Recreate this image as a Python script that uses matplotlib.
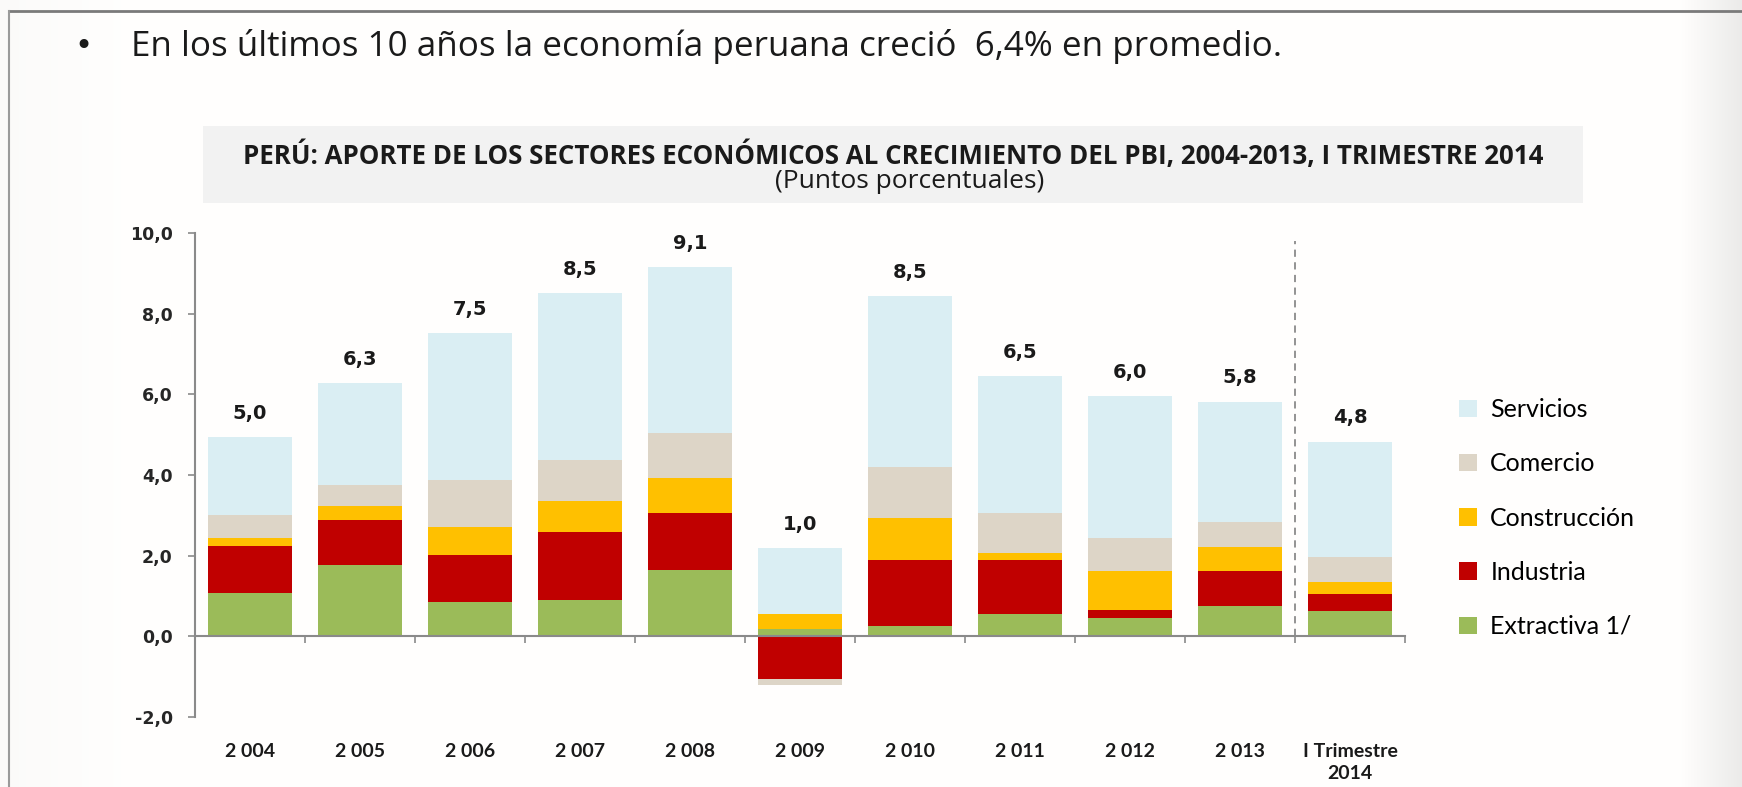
import matplotlib
matplotlib.use('Agg')
import matplotlib.pyplot as plt
import numpy as np
from matplotlib.lines import Line2D
from matplotlib.patches import Rectangle, Patch

# ---------------- data ----------------
categories = ['2 004', '2 005', '2 006', '2 007', '2 008', '2 009',
              '2 010', '2 011', '2 012', '2 013', 'I Trimestre\n2014']
extractiva   = [1.07, 1.76, 0.85, 0.89, 1.64, 0.17, 0.25, 0.55, 0.45, 0.74, 0.62]
industria    = [1.16, 1.12, 1.17, 1.70, 1.42, -1.07, 1.65, 1.35, 0.21, 0.87, 0.43]
construccion = [0.22, 0.34, 0.68, 0.76, 0.86, 0.39, 1.03, 0.17, 0.95, 0.60, 0.30]
comercio     = [0.55, 0.52, 1.18, 1.03, 1.12, -0.13, 1.28, 0.99, 0.82, 0.63, 0.61]
servicios    = [1.94, 2.54, 3.64, 4.13, 4.12, 1.63, 4.22, 3.39, 3.52, 2.98, 2.87]
totales      = ['5,0', '6,3', '7,5', '8,5', '9,1', '1,0', '8,5', '6,5', '6,0', '5,8', '4,8']
series_names = ['Extractiva 1/', 'Industria', 'Construcción', 'Comercio', 'Servicios']
yticks       = [-2, 0, 2, 4, 6, 8, 10]
ytick_labels = ['-2,0', '0,0', '2,0', '4,0', '6,0', '8,0', '10,0']

colors = ['#9BBB59', '#C00000', '#FFC000', '#DDD5C7', '#DAEEF3']

W, H = 1742, 787
fig = plt.figure(figsize=(W / 100, H / 100), dpi=100)
fig.patch.set_facecolor('white')

def fx(x):
    return x / W

def fy(y):
    return 1 - y / H

# background gradient (slide shadow)
bg = fig.add_axes([0, 0, 1, 1], zorder=-10)
xs = np.arange(W)
g = np.ones(W)
g = np.where(xs > 1680, 1 - 0.08 * ((xs - 1680) / 62.0), g)
g = np.where(xs < 120, 1 - 0.015 * (1 - xs / 120.0), g)
img = np.tile(g, (H, 1))
rgb = np.dstack([img, img * 0.997, img * 0.993])
bg.imshow(np.clip(rgb, 0, 1), extent=[0, W, H, 0], aspect='auto')
bg.set_xlim(0, W)
bg.set_ylim(H, 0)
bg.axis('off')

# slide frame lines
fig.add_artist(Line2D([fx(9), 1], [fy(11), fy(11)], color='#7a7a7a', lw=2))
fig.add_artist(Line2D([fx(9), fx(9)], [fy(11), 0], color='#9a9a9a', lw=1.5))

# ---------------- main axes ----------------
ax = fig.add_axes([fx(195), fy(717), fx(1405 - 195), (717 - 233) / H])
ax.set_facecolor('none')
x = np.arange(len(categories))
width = 0.76
pos_bottom = np.zeros(len(categories))
neg_bottom = np.zeros(len(categories))
all_series = [extractiva, industria, construccion, comercio, servicios]
handles = []
for name, vals, col in zip(series_names, all_series, colors):
    vals = np.array(vals, dtype=float)
    bottoms = np.where(vals >= 0, pos_bottom, neg_bottom)
    ax.bar(x, vals, width, bottom=bottoms, color=col, edgecolor='none',
           linewidth=0, zorder=2)
    pos_bottom = pos_bottom + np.where(vals >= 0, vals, 0)
    neg_bottom = neg_bottom + np.where(vals < 0, vals, 0)
    handles.append(Patch(facecolor=col, edgecolor='none', label=name))

for xi, top, lab in zip(x, pos_bottom, totales):
    ax.annotate(lab, xy=(xi, top), xytext=(0, 17), textcoords='offset points',
                ha='center', va='center', fontsize=14, fontweight='bold',
                family='DejaVu Sans', color='#1a1a1a')

ax.set_xlim(-0.5, len(categories) - 0.5)
ax.set_ylim(-2, 10)
ax.set_yticks(yticks)
ax.set_yticklabels(ytick_labels, fontsize=12.5, fontweight='bold',
                   family='DejaVu Sans', color='#262626')
ax.tick_params(axis='y', direction='out', length=5, width=1.2, color='#8a8a8a', pad=11)
ax.set_xticks(np.arange(-0.5, len(categories), 1.0))
ax.set_xticklabels([])
ax.tick_params(axis='x', direction='out', length=5, width=1.2, color='#8a8a8a')
for s in ['top', 'right']:
    ax.spines[s].set_visible(False)
ax.spines['left'].set_color('#8a8a8a')
ax.spines['left'].set_linewidth(1.5)
ax.spines['bottom'].set_position(('data', 0))
ax.spines['bottom'].set_color('#8a8a8a')
ax.spines['bottom'].set_linewidth(1.5)
ax.spines['bottom'].set_zorder(3)

# category labels at the bottom
for xi, lab in zip(x, categories):
    ax.annotate(lab, xy=(xi, 0), xycoords=('data', 'axes fraction'),
                xytext=(0, -19), textcoords='offset points', ha='center', va='top',
                fontsize=14, fontweight='bold', family='Lato', color='#1a1a1a',
                linespacing=1.35)

# dashed separator
ax.vlines(len(categories) - 1.5, 0, 9.8, colors='#8a8a8a', linestyles=(0, (4, 3)),
          linewidth=1.3, zorder=1)

# legend
leg = fig.legend(handles[::-1], series_names[::-1], loc='center left',
                 bbox_to_anchor=(fx(1459), fy(518)), frameon=False,
                 prop={'family': 'Lato', 'size': 18}, handlelength=0.7,
                 handleheight=0.7, handletextpad=0.55, labelspacing=1.25,
                 borderaxespad=0, borderpad=0)

# ---------------- title area ----------------
fig.add_artist(Rectangle((fx(203), fy(203)), fx(1583 - 203), (203 - 126) / H,
                         transform=fig.transFigure, facecolor='#F2F2F2',
                         edgecolor='none', zorder=0))

t_bullet = fig.text(fx(74), fy(47), '•', ha='left', va='center',
                    fontsize=22, family='DejaVu Sans', color='#1a1a1a')
t_main = fig.text(fx(131), fy(47),
                  'En los últimos 10 años la economía peruana creció  6,4% en promedio.',
                  ha='left', va='center', fontsize=22, family='Open Sans', color='#1a1a1a')
t_title = fig.text(fx(893), fy(156),
                   'PERÚ: APORTE DE LOS SECTORES ECONÓMICOS AL CRECIMIENTO DEL PBI, 2004-2013, I TRIMESTRE 2014',
                   ha='center', va='center', fontsize=16, fontweight='bold',
                   family='Open Sans', color='#1a1a1a')
t_sub = fig.text(fx(910), fy(182), '(Puntos porcentuales)', ha='center', va='center',
                 fontsize=15, family='Open Sans', color='#1a1a1a')

fig.canvas.draw()
renderer = fig.canvas.get_renderer()
for t, target in [(t_main, 1147), (t_title, 1302), (t_sub, 270)]:
    w = t.get_window_extent(renderer=renderer).width
    t.set_fontsize(t.get_fontsize() * target / w)

fig.savefig('out.png', dpi=100, facecolor=fig.get_facecolor())
